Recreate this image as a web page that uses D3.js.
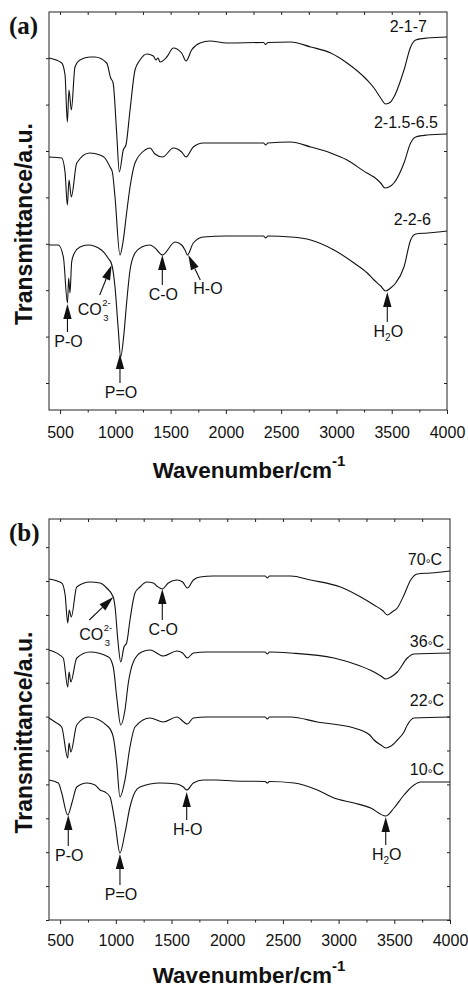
<!DOCTYPE html>
<html>
<head>
<meta charset="utf-8">
<script src="https://cdn.jsdelivr.net/npm/d3@7"></script>
<style>
  body { margin: 0; background: #fff; }
  svg text { font-family: "Liberation Sans", Arial, sans-serif; fill: #111; }
</style>
</head>
<body>
<svg id="chart" width="468" height="987"></svg>
<script>
// FTIR spectra: [wavenumber cm-1, transmittance a.u.]
// panel (a) - precursor ratios
const s217 = [[400,35.2],[515,34.7],[545,33.5],[566,28.8],[581,32.0],[602,30.0],[635,34.3],[680,35.0],[771,35.3],[816,35.3],[922,34.7],[958,33.2],[980,32.7],[1012,27.7],[1036,23.8],[1072,26.0],[1096,26.5],[1133,30.0],[1178,34.0],[1223,35.0],[1284,35.6],[1344,35.4],[1368,35.0],[1386,35.2],[1404,34.8],[1465,35.3],[1524,36.2],[1600,35.7],[1640,34.9],[1690,36.0],[1766,36.7],[1856,36.9],[2007,36.7],[2340,36.75],[2360,36.55],[2380,36.75],[2586,36.8],[2767,36.3],[2948,35.7],[3096,34.7],[3277,33.0],[3340,32.2],[3400,31.2],[3445,30.6],[3490,30.8],[3520,31.3],[3611,34.0],[3671,36.3],[3717,37.0],[3819,37.2],[4000,37.3]];
const s2156 = [[400,25.3],[515,25.2],[545,23.8],[566,20.5],[581,23.0],[602,21.3],[651,24.7],[766,25.7],[861,25.5],[906,25.2],[952,24.3],[973,23.8],[997,21.3],[1042,15.5],[1072,17.0],[1102,19.7],[1133,22.3],[1178,24.7],[1268,26.0],[1313,26.2],[1359,25.6],[1428,25.3],[1524,26.2],[1600,25.8],[1639,25.3],[1705,26.3],[1796,26.7],[2007,26.7],[2340,26.7],[2360,26.5],[2380,26.7],[2586,26.8],[2767,26.3],[2948,25.7],[3096,25.0],[3276,23.7],[3340,23.3],[3400,22.7],[3439,22.2],[3490,22.4],[3520,22.7],[3611,24.7],[3671,26.7],[3717,27.3],[3819,27.5],[4000,27.6]];
const s226 = [[400,16.5],[484,16.5],[530,15.3],[567,10.7],[578,13.2],[590,11.7],[605,14.8],[630,15.7],[680,16.3],[753,16.5],[874,16.0],[934,15.2],[969,14.5],[997,12.3],[1027,8.0],[1048,5.3],[1075,7.3],[1102,10.7],[1133,14.0],[1178,15.7],[1238,16.3],[1313,16.5],[1359,16.2],[1425,15.5],[1540,16.8],[1600,16.5],[1630,16.0],[1652,15.5],[1705,16.7],[1796,17.3],[2007,17.4],[2340,17.4],[2360,17.2],[2380,17.4],[2586,17.3],[2767,17.0],[2978,16.0],[3159,14.7],[3279,13.7],[3340,13.0],[3400,12.4],[3445,11.9],[3490,12.2],[3536,12.7],[3611,14.3],[3671,17.0],[3717,17.6],[3822,17.7],[4000,17.9]];
const labelsA = ["2-1-7", "2-1.5-6.5", "2-2-6"];

// panel (b) - temperatures
const s70 = [[400,34.1],[514,33.7],[545,32.5],[568,29.7],[582,31.0],[600,30.3],[649,33.3],[768,33.8],[858,33.7],[918,33.2],[977,32.3],[993,31.3],[1018,28.0],[1044,25.8],[1073,27.3],[1097,27.7],[1127,30.0],[1172,32.7],[1217,33.3],[1277,33.8],[1337,33.7],[1367,33.4],[1417,33.1],[1471,33.7],[1547,34.0],[1600,33.8],[1642,33.2],[1696,34.0],[1756,34.3],[1875,34.4],[2340,34.4],[2360,34.2],[2380,34.4],[2570,34.4],[2749,34.0],[3016,33.3],[3199,32.3],[3318,31.5],[3400,30.9],[3437,30.5],[3480,30.8],[3527,31.2],[3587,32.5],[3647,34.0],[3707,34.6],[3827,34.7],[4000,34.9]];
const s36 = [[400,27.0],[528,26.2],[568,23.3],[580,24.8],[596,23.8],[649,26.2],[768,26.8],[934,26.3],[977,25.3],[1008,22.3],[1044,19.5],[1082,21.0],[1112,23.7],[1157,25.8],[1232,26.8],[1307,27.0],[1426,26.4],[1547,26.9],[1600,26.7],[1642,26.2],[1696,26.7],[1816,26.8],[2340,26.8],[2360,26.6],[2380,26.8],[2570,26.7],[2958,26.2],[3169,25.5],[3318,24.8],[3380,24.4],[3423,24.1],[3470,24.3],[3527,24.8],[3617,26.2],[3677,26.6],[4000,26.7]];
const s22 = [[400,20.2],[454,19.8],[514,19.3],[568,16.2],[580,17.7],[596,16.8],[649,19.5],[753,20.3],[934,19.3],[977,18.3],[1008,15.7],[1037,12.3],[1082,14.0],[1127,17.3],[1172,19.3],[1307,20.2],[1426,19.8],[1547,20.3],[1642,19.6],[1696,20.2],[1816,20.3],[2340,20.3],[2360,20.1],[2380,20.3],[2570,20.3],[2809,19.8],[3139,19.2],[3279,18.5],[3318,18.0],[3380,17.5],[3423,17.2],[3470,17.4],[3527,18.0],[3587,18.8],[3617,19.5],[3677,20.2],[4000,20.3]];
const s10 = [[400,14.0],[484,13.7],[514,12.7],[568,10.5],[608,11.8],[649,13.3],[741,13.7],[813,13.5],[858,13.0],[903,12.8],[948,12.3],[993,9.7],[1037,6.7],[1082,8.7],[1127,11.3],[1172,12.8],[1217,13.3],[1397,13.7],[1547,13.6],[1607,13.3],[1636,13.0],[1696,13.7],[1785,14.0],[1905,14.0],[2061,13.9],[2340,13.85],[2360,13.7],[2380,13.85],[2600,13.7],[2809,13.0],[2958,12.2],[3139,11.7],[3288,11.2],[3423,10.4],[3497,11.2],[3587,12.5],[3677,13.5],[3737,13.8],[4000,13.8]];
const labelsB = ["70°C", "36°C", "22°C", "10°C"];

// band assignments: [label, wavenumber, transmittance at arrow tip]
const notesA = [["P-O",567,10.6],["CO3",967,14.5],["C-O",1425,15.5],["H-O",1660,15.5],["P=O",1042,5.6],["H2O",3460,11.8]];
const notesB = [["CO3",977,32.3],["C-O",1417,33.1],["P-O",573,10.5],["P=O",1037,6.6],["H-O",1636,12.8],["H2O",3423,10.3]];

const xTicks = [500, 1000, 1500, 2000, 2500, 3000, 3500, 4000];

// layout bits (pixels) kept apart from the data
const tailsA = [[0,28],[-12,30],[0,30],[12,25],[0,29],[0,30]];
const tailsB = [[-24,23],[0,31],[0,31],[0,31],[0,28],[0,28]];
const labelDxA = [-20, -9, -16];
const labelDxB = [-8, -6, -6, -6];
const labelDyA = [-5, -6, -6];
const labelDyB = [-6, -6, -11, -7];

const svg = d3.select("#chart");

function arrow(g, x0, y0, x1, y1) {
    // tail (x0,y0) -> tip (x1,y1)
    const len = Math.hypot(x1 - x0, y1 - y0);
    const ux = (x1 - x0) / len, uy = (y1 - y0) / len;
    const hl = 15, hw = 4.2;
    const bx = x1 - ux * hl, by = y1 - uy * hl;
    g.append("line").attr("x1", x0).attr("y1", y0).attr("x2", bx).attr("y2", by)
        .attr("stroke", "#111").attr("stroke-width", 1.1);
    g.append("path")
        .attr("d", `M${x1},${y1}L${bx - uy * hw},${by + ux * hw}L${bx + uy * hw},${by - ux * hw}Z`)
        .attr("fill", "#111");
}

function drawPanel(p) {
    const x = d3.scaleLinear().domain([400, 4000]).range([p.left, p.right]);
    const y = d3.scaleLinear().domain([0, p.yMax]).range([p.bottom, p.top]);
    const g = svg.append("g");

    const axisStyle = sel => {
        sel.select(".domain").remove();
        sel.selectAll("line").attr("stroke", "#222");
        sel.selectAll("text").attr("font-size", 16).attr("fill", "#111");
    };

    g.append("g").attr("transform", `translate(0,${p.bottom})`)
        .call(d3.axisBottom(x).tickValues(xTicks).tickSize(4).tickPadding(p.tickPad).tickFormat(d3.format("d")))
        .call(axisStyle);
    g.append("g").attr("transform", `translate(0,${p.bottom})`)
        .call(d3.axisBottom(x).tickValues(d3.range(750, 4000, 500)).tickSize(2.5).tickFormat(""))
        .call(axisStyle);
    g.append("g").attr("transform", `translate(0,${p.top})`)
        .call(d3.axisTop(x).tickValues(d3.range(500, 4000, 250)).tickSize(-3).tickFormat(""))
        .call(axisStyle);
    g.append("g").attr("transform", `translate(${p.left},0)`)
        .call(d3.axisLeft(y).tickValues(p.yTicks).tickSize(3).tickFormat(""))
        .call(axisStyle);
    g.append("g").attr("transform", `translate(${p.right},0)`)
        .call(d3.axisRight(y).tickValues(p.yTicks).tickSize(-3).tickFormat(""))
        .call(axisStyle);

    g.append("rect").attr("x", p.left).attr("y", p.top)
        .attr("width", p.right - p.left).attr("height", p.bottom - p.top)
        .attr("fill", "none").attr("stroke", "#222").attr("stroke-width", 1);

    const line = d3.line().x(d => x(d[0])).y(d => y(d[1])).curve(d3.curveMonotoneX);
    p.series.forEach((s, i) => {
        g.append("path").datum(s).attr("d", line)
            .attr("fill", "none").attr("stroke", "#111").attr("stroke-width", 1.1);
        const last = s[s.length - 1];
        const t = g.append("text").attr("text-anchor", "end")
            .attr("x", p.right + p.labelDx[i]).attr("y", y(last[1]) + p.labelDy[i])
            .attr("font-size", 16);
        const lab = p.labels[i];
        if (lab.includes("°")) {
            const parts = lab.split("°");
            t.append("tspan").text(parts[0]);
            t.append("tspan").attr("font-size", 12).attr("dy", 3).text("°");
            t.append("tspan").attr("dy", -3).text(parts[1]);
        } else {
            t.text(lab);
        }
    });

    // band assignment arrows
    p.notes.forEach((n, i) => {
        const tx = x(n[1]), ty = y(n[2]);
        const [dx, dy] = p.tails[i];
        const ax = tx + dx, ay = ty + dy;
        arrow(g, ax, ay, tx, ty);
        if (n[0] === "CO3") {
            const cx = tx - 10, cy = ay + 20;
            g.append("text").attr("x", cx).attr("y", cy).attr("text-anchor", "end")
                .attr("font-size", 16).text("CO");
            g.append("text").attr("x", cx + 0.5).attr("y", cy - 9).attr("font-size", 9.5).text("2-");
            g.append("text").attr("x", cx + 1.5).attr("y", cy + 6).attr("font-size", 9.5).text("3");
        } else if (dx > 0) {
            g.append("text").attr("x", ax - 7).attr("y", ay + 14).attr("font-size", 16).text(n[0]);
        } else {
            const t = g.append("text").attr("x", tx + 1).attr("y", ay + 15)
                .attr("text-anchor", "middle").attr("font-size", 16);
            if (n[0] === "H2O") {
                t.append("tspan").text("H");
                t.append("tspan").attr("font-size", 10).attr("dy", 4).text("2");
                t.append("tspan").attr("dy", -4).text("O");
            } else {
                t.text(n[0]);
            }
        }
    });

    // titles
    svg.append("text")
        .attr("transform", `translate(${p.left - 17.5},${(p.top + p.bottom) / 2 + 13}) rotate(-90)`)
        .attr("text-anchor", "middle").attr("font-size", 23).attr("font-weight", "bold")
        .text("Transmittance/a.u.");
    const xt = svg.append("text").attr("x", 249).attr("y", p.xTitleY)
        .attr("text-anchor", "middle").attr("font-size", 22.5).attr("font-weight", "bold");
    xt.append("tspan").text("Wavenumber/cm");
    xt.append("tspan").attr("font-size", 15).attr("dy", -12).text("-1");

    svg.append("text").attr("x", 9).attr("y", p.top + 22)
        .style("font-family", "'Liberation Serif', 'Times New Roman', serif")
        .attr("font-size", 25).attr("font-weight", "bold").text(p.tag);
}

drawPanel({
    tag: "(a)", left: 49, right: 447, top: 12, bottom: 410, yMax: 39.8,
    yTicks: d3.range(0, 8).map(k => 2.7 + 4.64 * k),
    series: [s217, s2156, s226], labels: labelsA, labelDx: labelDxA, labelDy: labelDyA,
    notes: notesA, tails: tailsA, tickPad: 13, xTitleY: 478
});

drawPanel({
    tag: "(b)", left: 49, right: 450, top: 519, bottom: 920, yMax: 40.1,
    yTicks: d3.range(0, 12).map(k => 3.39 * k),
    series: [s70, s36, s22, s10], labels: labelsB, labelDx: labelDxB, labelDy: labelDyB,
    notes: notesB, tails: tailsB, tickPad: 11, xTitleY: 983
});
</script>
</body>
</html>
